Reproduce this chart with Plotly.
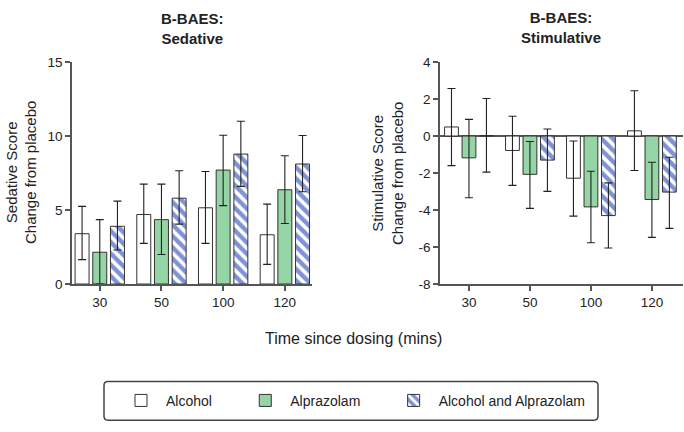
import plotly.graph_objects as go

times = ["30", "50", "100", "120"]
series_names = ["Alcohol", "Alprazolam", "Alcohol and Alprazolam"]
sed_ticks = [0, 5, 10, 15]
stim_ticks = [-8, -6, -4, -2, 0, 2, 4]
stim_tick_labels = ["-8", "-6", "-4", "-2", "0", "2", "4"]

# Sedative (left panel)
sed_alcohol = [3.4, 4.7, 5.15, 3.33]
sed_alcohol_hi = [5.25, 6.75, 7.6, 5.4]
sed_alcohol_lo = [1.65, 2.75, 2.75, 1.33]
sed_alpraz = [2.15, 4.35, 7.7, 6.37]
sed_alpraz_hi = [4.35, 6.75, 10.05, 8.67]
sed_alpraz_lo = [0.0, 2.0, 5.3, 4.09]
sed_combo = [3.9, 5.8, 8.78, 8.11]
sed_combo_hi = [5.6, 7.65, 11.0, 10.04]
sed_combo_lo = [2.3, 4.05, 6.6, 6.24]

# Stimulative (right panel)
stim_alcohol = [0.49, -0.78, -2.28, 0.28]
stim_alcohol_hi = [2.57, 1.07, -0.27, 2.45]
stim_alcohol_lo = [-1.6, -2.67, -4.33, -1.86]
stim_alpraz = [-1.18, -2.07, -3.83, -3.43]
stim_alpraz_hi = [0.9, -0.3, -1.9, -1.42]
stim_alpraz_lo = [-3.34, -3.91, -5.77, -5.48]
stim_combo = [0.03, -1.3, -4.3, -3.03]
stim_combo_hi = [2.03, 0.38, -2.53, -1.15]
stim_combo_lo = [-1.95, -2.99, -6.05, -4.99]

FONT = "Liberation Sans, Arial, sans-serif"
TXT = "#222222"
AX = "#555555"
GREEN = "#95D4A4"
BLUE = "#7F92D5"
NB = "\u00a0"
legend_pad = [6, 6, 0]

def marker_for(i):
    base = dict(line=dict(color="#333333", width=1))
    if i == 0:
        base["color"] = "white"
    elif i == 1:
        base["color"] = GREEN
    else:
        base["color"] = BLUE
        base["pattern"] = dict(shape="\\", fgcolor="white", bgcolor=BLUE,
                               size=8, solidity=0.45, fillmode="replace")
    return base

def err(vals, hi, lo):
    return dict(type="data", symmetric=False,
                array=[h - v for v, h in zip(vals, hi)],
                arrayminus=[v - l for v, l in zip(vals, lo)],
                color="#222222", thickness=1.1, width=4)

fig = go.Figure()
left = [(sed_alcohol, sed_alcohol_hi, sed_alcohol_lo),
        (sed_alpraz, sed_alpraz_hi, sed_alpraz_lo),
        (sed_combo, sed_combo_hi, sed_combo_lo)]
right = [(stim_alcohol, stim_alcohol_hi, stim_alcohol_lo),
         (stim_alpraz, stim_alpraz_hi, stim_alpraz_lo),
         (stim_combo, stim_combo_hi, stim_combo_lo)]

for i, (v, hi, lo) in enumerate(left):
    fig.add_trace(go.Bar(x=times, y=v, name=series_names[i] + NB * legend_pad[i],
                         marker=marker_for(i),
                         error_y=err(v, hi, lo), xaxis="x", yaxis="y",
                         offsetgroup=str(i), showlegend=True))
for i, (v, hi, lo) in enumerate(right):
    fig.add_trace(go.Bar(x=times, y=v, name=series_names[i], marker=marker_for(i),
                         error_y=err(v, hi, lo), xaxis="x2", yaxis="y2",
                         offsetgroup=str(i), showlegend=False))

W, H = 684, 432
ydom = [1 - 287 / H, 1 - 57 / H]
axis_common = dict(showline=True, linecolor=AX, linewidth=1.5, ticks="outside",
                   ticklen=5, tickcolor=AX, tickwidth=1.5, showgrid=False,
                   tickfont=dict(family=FONT, size=13.5, color=TXT))

fig.update_layout(
    width=W, height=H, margin=dict(l=0, r=0, t=0, b=0),
    paper_bgcolor="white", plot_bgcolor="white",
    barmode="group", bargap=0.14, bargroupgap=0.21,
    font=dict(family=FONT, color=TXT),
    xaxis=dict(domain=[72 / W, 312 / W], type="category", range=[-0.45, 3.44],
               anchor="y", **axis_common),
    yaxis=dict(domain=ydom, range=[0, 15], tickvals=sed_ticks,
               anchor="x", zeroline=False, **axis_common),
    xaxis2=dict(domain=[440 / W, 683 / W], type="category", range=[-0.475, 3.51],
                anchor="y2", **axis_common),
    yaxis2=dict(domain=ydom, range=[-8, 4], tickvals=stim_ticks, ticktext=stim_tick_labels,
                anchor="x2", zeroline=True, zerolinecolor=AX, zerolinewidth=1.5,
                **axis_common),
    showlegend=True,
    legend=dict(orientation="h", x=116 / W, xanchor="left", y=1 - 408 / H,
                yanchor="middle", font=dict(family=FONT, size=14, color=TXT),
                itemwidth=40, bgcolor="rgba(0,0,0,0)",
                borderwidth=0, traceorder="normal", itemclick=False),
)

def ann(text, x, y, size, bold=False, angle=0):
    fig.add_annotation(text=f"<b>{text}</b>" if bold else text,
                       x=x / W, y=1 - y / H, xref="paper", yref="paper",
                       showarrow=False, textangle=angle,
                       font=dict(family=FONT, size=size, color=TXT),
                       xanchor="center", yanchor="middle")

ann("B-BAES:<br>Sedative", 192, 22, 15, bold=True)
ann("B-BAES:<br>Stimulative", 561, 21, 15, bold=True)
ann("Sedative Score<br>Change from placebo", 21, 172, 15, angle=-90)
ann("Stimulative Score<br>Change from placebo", 388, 173, 15, angle=-90)
ann("Time since dosing (mins)", 353, 343, 16)

# rounded legend frame
x0, x1, y0, y1, r = 104, 598, 388, 428, 4
def px(x): return x / W
def py(y): return 1 - y / H
path = (f"M {px(x0 + r)},{py(y0)} L {px(x1 - r)},{py(y0)} Q {px(x1)},{py(y0)} {px(x1)},{py(y0 + r)} "
        f"L {px(x1)},{py(y1 - r)} Q {px(x1)},{py(y1)} {px(x1 - r)},{py(y1)} "
        f"L {px(x0 + r)},{py(y1)} Q {px(x0)},{py(y1)} {px(x0)},{py(y1 - r)} "
        f"L {px(x0)},{py(y0 + r)} Q {px(x0)},{py(y0)} {px(x0 + r)},{py(y0)} Z")
fig.add_shape(type="path", path=path, xref="paper", yref="paper",
              line=dict(color="#444444", width=1.5), fillcolor="rgba(0,0,0,0)")

fig.write_html("out.html", config={"displayModeBar": False},
               post_script="document.body.style.margin='0';document.documentElement.style.margin='0';document.body.style.overflow='hidden';")
